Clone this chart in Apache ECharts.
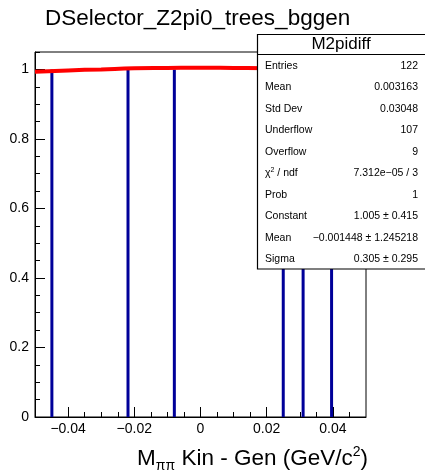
<!DOCTYPE html>
<html>
<head>
<meta charset="utf-8">
<script src="https://cdn.jsdelivr.net/npm/echarts@6/dist/echarts.min.js"></script>
<style>html,body{margin:0;padding:0;background:#fff;}#c{width:425px;height:471px;}</style>
</head>
<body>
<div id="c"></div>
<script>
// ---- data ----
var binCenters = [-0.0449, -0.0219, -0.0079, 0.0250, 0.0310, 0.0396];
var binCounts  = [1, 1, 1, 1, 1, 1];
var fitX = [-0.05, -0.04, -0.03, -0.02, -0.01, 0.0, 0.01, 0.02, 0.03, 0.04, 0.05];
var fitY = [0.993, 0.997, 1.000, 1.003, 1.004, 1.005, 1.004, 1.003, 1.000, 0.997, 0.993];
var xTickValues = [-0.04, -0.02, 0, 0.02, 0.04];
var xTickLabels = ['\u22120.04', '\u22120.02', '0', '0.02', '0.04'];
var xMinorValues = [-0.045, -0.035, -0.03, -0.025, -0.015, -0.01, -0.005, 0.005, 0.01, 0.015, 0.025, 0.03, 0.035, 0.045];
var yTickValues = [0, 0.2, 0.4, 0.6, 0.8, 1];
var yTickLabels = ['0', '0.2', '0.4', '0.6', '0.8', '1'];
var yMinorValues = [0.05, 0.1, 0.15, 0.25, 0.3, 0.35, 0.45, 0.5, 0.55, 0.65, 0.7, 0.75, 0.85, 0.9, 0.95, 1.05];
var chartTitle = 'DSelector_Z2pi0_trees_bggen';
var statsTitle = 'M2pidiff';
var statsLabels = ['Entries', 'Mean', 'Std Dev', 'Underflow', 'Overflow', 'CHI', 'Prob', 'Constant', 'Mean', 'Sigma'];
var statsValues = ['122', '0.003163', '0.03048', '107', '9', '7.312e\u221205 / 3', '1', '1.005 \u00b1 0.415', '\u22120.001448 \u00b1 1.245218', '0.305 \u00b1 0.295'];

var FONT = '"Liberation Sans", Arial, Helvetica, sans-serif';
var chart = echarts.init(document.getElementById('c'), null, {renderer: 'canvas'});

function lab(vals, labels) {
  return function (v) {
    for (var i = 0; i < vals.length; i++) if (Math.abs(vals[i] - v) < 1e-9) return labels[i];
    return '';
  };
}

var G = {left: 35, top: 52, width: 331, height: 365};

var graphics = [];
graphics.push({type: 'text', x: 45, y: 19, z: 100,
  style: {text: chartTitle, font: '22.5px ' + FONT, fill: '#000', verticalAlign: 'middle'}});
// x axis title
graphics.push({type: 'text', z: 100, x: 368, y: 459,
  style: {
    text: '{a|M}{s|\u03c0\u03c0}{a| Kin - Gen (GeV/c}{p|2}{a|)}',
    align: 'right', verticalAlign: 'middle', fill: '#000',
    rich: {
      a: {fontSize: 22.5, fontFamily: FONT, lineHeight: 28, verticalAlign: 'middle'},
      s: {fontSize: 14, fontFamily: FONT, lineHeight: 28, verticalAlign: 'bottom'},
      p: {fontSize: 14, fontFamily: FONT, lineHeight: 28, verticalAlign: 'top'}
    }
  }});
// stats box
graphics.push({type: 'rect', z: 100, shape: {x: 257.5, y: 34.5, width: 170, height: 234.5},
  style: {fill: '#fff', stroke: '#000', lineWidth: 1.2}});
graphics.push({type: 'line', z: 101, shape: {x1: 257.5, y1: 54.5, x2: 425, y2: 54.5},
  style: {stroke: '#000', lineWidth: 1}});
graphics.push({type: 'text', z: 101, x: 341, y: 44.5,
  style: {text: statsTitle, font: '17px ' + FONT, fill: '#000', align: 'center', verticalAlign: 'middle'}});
for (var i = 0; i < statsLabels.length; i++) {
  var yy = 66 + i * 21.5;
  var lbl = statsLabels[i];
  if (lbl === 'CHI') {
    graphics.push({type: 'text', z: 101, x: 265, y: yy,
      style: {text: '{a|\u03c7}{p|2}{a| / ndf}', align: 'left', verticalAlign: 'middle', fill: '#000',
        rich: {a: {fontSize: 10.5, fontFamily: FONT, lineHeight: 14, verticalAlign: 'middle'},
               p: {fontSize: 7, fontFamily: FONT, lineHeight: 14, verticalAlign: 'top'}}}});
  } else {
    graphics.push({type: 'text', z: 101, x: 265, y: yy,
      style: {text: lbl, font: '10.5px ' + FONT, fill: '#000', align: 'left', verticalAlign: 'middle'}});
  }
  graphics.push({type: 'text', z: 101, x: 418, y: yy,
    style: {text: statsValues[i], font: '10.5px ' + FONT, fill: '#000', align: 'right', verticalAlign: 'middle'}});
}

var barData = binCenters.map(function (x, i) { return [x, binCounts[i]]; });
var fitData = fitX.map(function (x, i) { return [x, fitY[i]]; });

chart.setOption({
  animation: false,
  backgroundColor: '#fff',
  grid: {left: G.left, top: G.top, width: G.width, height: G.height, show: true,
    borderColor: '#000', borderWidth: 1, backgroundColor: 'transparent', containLabel: false},
  xAxis: [{
    type: 'value', min: -0.05, max: 0.05, position: 'bottom',
    axisLine: {show: true, onZero: false, lineStyle: {color: '#000', width: 1}},
    axisTick: {show: true, inside: true, length: 10, lineStyle: {color: '#000', width: 1}, customValues: xTickValues},
    axisLabel: {show: true, customValues: xTickValues, formatter: lab(xTickValues, xTickLabels),
      color: '#000', fontSize: 14, fontFamily: FONT, margin: 5},
    splitLine: {show: false}
  }, {
    type: 'value', min: -0.05, max: 0.05, position: 'bottom',
    axisLine: {show: false, onZero: false},
    axisTick: {show: true, inside: true, length: 5, lineStyle: {color: '#000', width: 1}, customValues: xMinorValues},
    axisLabel: {show: false},
    splitLine: {show: false}
  }],
  yAxis: [{
    type: 'value', min: 0, max: 1.05, position: 'left',
    axisLine: {show: true, onZero: false, lineStyle: {color: '#000', width: 1}},
    axisTick: {show: true, inside: true, length: 10, lineStyle: {color: '#000', width: 1}, customValues: yTickValues},
    axisLabel: {show: true, customValues: yTickValues, formatter: lab(yTickValues, yTickLabels),
      color: '#000', fontSize: 14, fontFamily: FONT, margin: 6},
    splitLine: {show: false}
  }, {
    type: 'value', min: 0, max: 1.05, position: 'left',
    axisLine: {show: false, onZero: false},
    axisTick: {show: true, inside: true, length: 5, lineStyle: {color: '#000', width: 1}, customValues: yMinorValues},
    axisLabel: {show: false},
    splitLine: {show: false}
  }],
  series: [{
    type: 'bar', xAxisIndex: 0, yAxisIndex: 0, data: barData, barWidth: 3,
    itemStyle: {color: '#000099'}, z: 2
  }, {
    type: 'line', xAxisIndex: 0, yAxisIndex: 0, data: fitData, smooth: true, showSymbol: false,
    lineStyle: {color: '#ff0000', width: 4}, z: 3, clip: true
  }],
  graphic: graphics
});
</script>
</body>
</html>
